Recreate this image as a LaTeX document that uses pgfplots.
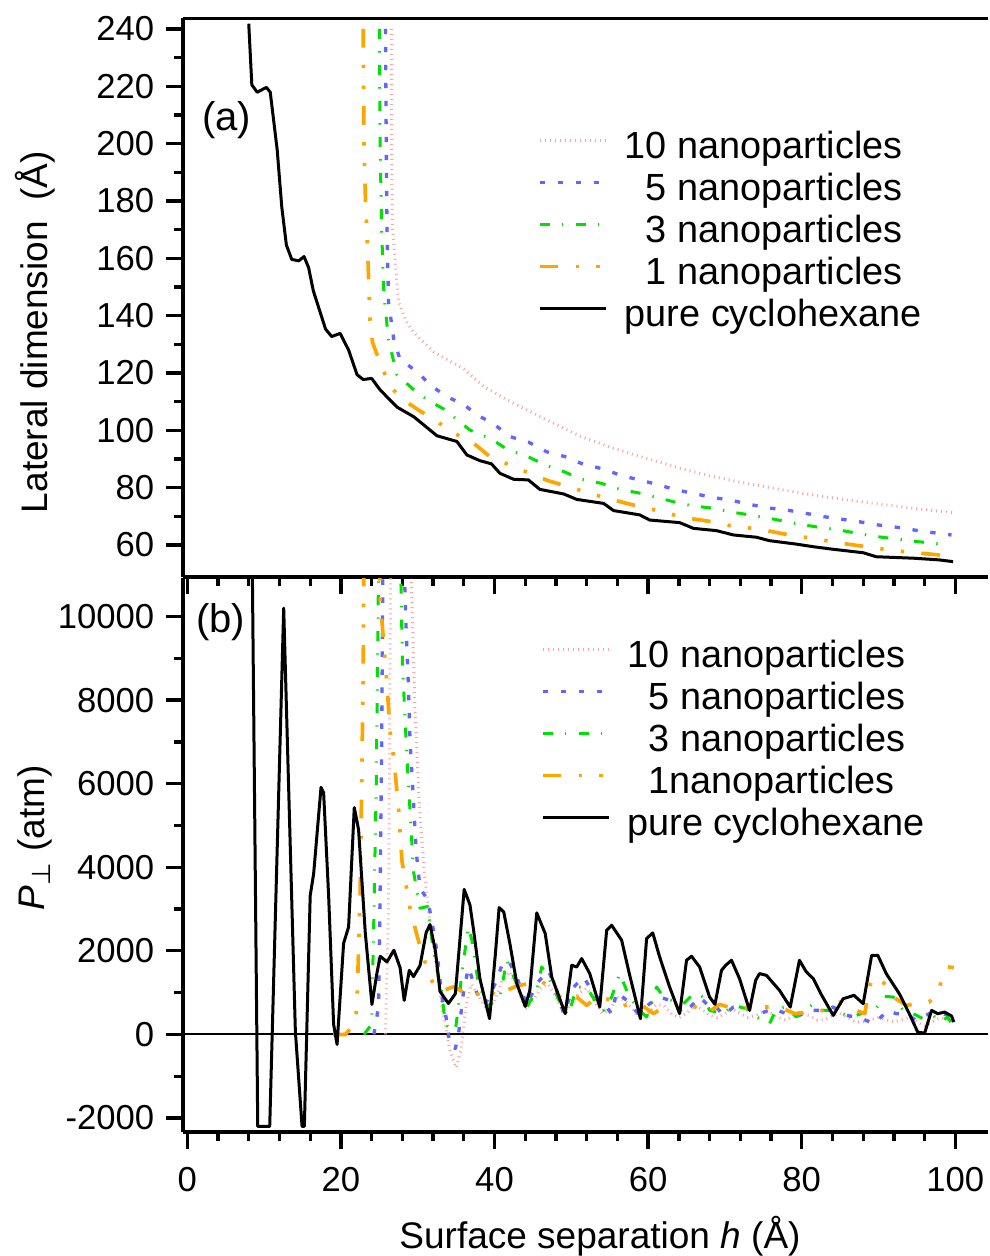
\documentclass[border=0pt]{standalone}
\usepackage{pgfplots}
\pgfplotsset{compat=1.18}
\usepackage{fontspec}
\setmainfont{Liberation Sans}
\newfontfamily\dejavu{DejaVu Sans}
\definecolor{c10}{RGB}{250,165,165}
\definecolor{c5}{RGB}{100,100,255}
\definecolor{c3}{RGB}{0,225,0}
\definecolor{c1}{RGB}{255,165,0}
\pgfplotsset{
  s10/.style={color=c10, line width=0.9pt, dash pattern=on 0.3pt off 1.2pt},
  s5/.style={color=c5, line width=1pt, dash pattern=on 1.6pt off 3.8pt},
  s3/.style={color=c3, line width=0.9pt, dash pattern=on 3pt off 3.7pt on 0.4pt off 3.7pt},
  s1/.style={color=c1, line width=1.1pt, dash pattern=on 5.6pt off 5.2pt on 1pt off 5.2pt on 1pt off 5.2pt},
  s0/.style={black, line width=0.9pt},
  common/.style={
    scale only axis, width=241.5pt,
    xmin=-0.56, xmax=104.25,
    axis lines*=left,
    axis line style={line width=1pt},
    tick align=outside,
    major tick length=5.1pt, minor tick length=2.7pt,
    tick style={line width=1pt, black},
    xtick={0,20,...,100}, minor x tick num=4,
    minor y tick num=1,
    scaled ticks=false,
    tick label style={font=\fontsize{10.4}{12}\selectfont},
    /pgf/number format/assume math mode=true,
    /pgf/number format/1000 sep={},
    label style={font=\fontsize{11.1}{13}\selectfont},
    line join=round,
    legend cell align=left,
  },
}
\pgfplotsset{legend image code/.code={\draw[#1] (0pt,3.3pt) -- (19.8pt,3.3pt);}}
\begin{document}
\begin{tikzpicture}
\useasboundingbox (0,0) rectangle (296.7pt,376.8pt);
% ---------------- panel (a)
\begin{axis}[common,
  at={(54.9pt,203.7pt)}, anchor=south west,
  height=167.7pt,
  ymin=48.84, ymax=243.8,
  ytick={60,80,...,240},
  xticklabels={},
  ylabel={Lateral dimension\ \ (Å)},
  ylabel style={at={(axis description cs:-0.184,0.438)}, anchor=center},
  legend style={at={(0.44,0.80)}, anchor=north west, draw=none, fill=none,
    font=\fontsize{11.35}{13}\selectfont, row sep=0pt, inner sep=0pt, column sep=5.2pt,
    nodes={inner sep=0pt, text height=8.4pt, text depth=4.2pt}},
]
\addplot[s10] coordinates {(26.6,240)(26.6,200)(26.7,171)(27.5,144.7)(28.5,138)(29.5,134)(32.1,127.3)(36.0,121.4)(38.6,115.2)(42.5,109.4)(46.8,103.6)(51.1,98.0)(55.5,93.7)(59.8,90.2)(64.1,86.8)(68.5,83.8)(72.8,81.5)(77.1,79.4)(81.5,77.4)(85.8,75.7)(90.1,74.3)(94.5,72.8)(99.7,71.3)};
\addlegendentry{10 nanoparticles}
\addplot[s5] coordinates {(25.8,240)(25.9,200)(26.0,170)(26.2,144.7)(26.9,131.4)(27.7,124.7)(30.1,120.1)(31.5,116)(33.8,111.7)(36.0,109)(37.7,105.4)(39.9,102.2)(42.0,97.8)(44.4,95.9)(46.8,92.5)(49.2,90.8)(51.6,88.1)(54.2,86.5)(56.6,84.1)(58.9,82.7)(61.3,81.0)(63.7,79.2)(65.9,78.0)(68.3,76.6)(70.6,75.7)(73.0,74.3)(75.4,73.0)(78.0,72.2)(80.4,71.1)(82.8,69.9)(85.2,69.0)(87.5,68.1)(89.9,67.0)(92.3,66.2)(94.7,65.2)(97.1,64.3)(99.5,63.5)};
\addlegendentry{\hspace{0.556em}5 nanoparticles}
\addplot[s3] coordinates {(25.0,240)(25.1,200)(25.3,170)(25.6,147.3)(26.2,131.4)(27.3,119.4)(29.5,114.1)(31.2,110.7)(33.4,107.4)(36.8,100.1)(39.6,96.9)(41.8,93.1)(44.2,91.0)(46.6,87.9)(49.0,85.6)(51.4,82.9)(53.9,81.5)(56.3,79.4)(58.7,78.2)(61.1,76.6)(63.7,74.8)(65.9,73.6)(68.5,72.8)(70.6,71.6)(73.2,70.5)(75.8,69.3)(80.2,67.0)(84.9,65.2)(89.3,63.1)(94.0,61.5)(99.2,60.0)};
\addlegendentry{\hspace{0.556em}3 nanoparticles}
\addplot[s1] coordinates {(22.9,240)(23.0,200)(23.2,180)(23.4,168.6)(23.8,138)(24.1,130.8)(25.1,123.5)(26.4,115.5)(27.7,111.4)(30.3,106.7)(32,104.1)(34.4,99.4)(37,96.1)(39.4,90.8)(41.6,88.3)(44.4,85.2)(47.0,82.4)(50.7,79.4)(54.6,76.3)(58.3,73.8)(60.9,72.2)(64.6,69.6)(68.3,68.1)(70.9,66.6)(74.5,65.5)(78.4,63.5)(82.1,62.0)(84.7,60.8)(88.4,59.4)(92.1,58.0)(94.9,57.3)(97.9,56.5)(99.7,55.4)};
\addlegendentry{\hspace{0.556em}1 nanoparticles}
\addplot[s0] coordinates {(8.0,241.8)(8.4,220.5)(9.1,217.9)(10.3,219.6)(10.8,217.9)(11.7,197.9)(12.3,177.9)(12.9,164.6)(13.6,159.6)(14.5,159.1)(15.2,160.6)(15.8,156.7)(16.4,148.7)(18.0,135.3)(18.8,132.7)(19.9,133.8)(21.0,128)(22.1,119.4)(22.9,117.7)(24.0,118.1)(25.1,114.1)(27.3,108.1)(29.5,104.7)(32.5,98.1)(35.1,96.1)(36.4,91.4)(38.1,89.4)(39.6,88.3)(40.7,85)(42.5,82.9)(44.4,82.7)(45.9,79.4)(49.0,77.8)(50.7,75.9)(54.2,74.5)(55.5,72.0)(58.9,70.5)(60.2,68.7)(64.1,67.8)(65.9,65.8)(68.9,65.0)(71.1,63.5)(74.1,62.7)(75.8,61.5)(79.3,60.3)(81.5,59.4)(84.1,58.5)(88.0,57.3)(89.7,55.9)(94.5,55.4)(97.9,54.8)(99.7,54.2)};
\addlegendentry{pure cyclohexane}
\draw[line width=1pt] (rel axis cs:0,1) -- (rel axis cs:1,1);
\node[font=\fontsize{12}{14}\selectfont] at (rel axis cs:0.054,0.8175) {(a)};
\end{axis}
% ---------------- panel (b)
\begin{axis}[common,
  at={(54.9pt,37.2pt)}, anchor=south west,
  height=166.2pt,
  ymin=-2335, ymax=10921,
  ytick={-2000,0,...,10000},
  xlabel={Surface separation \textit{h} (Å)},
  xlabel style={at={(axis description cs:0.518,-0.188)}, anchor=center},
  xticklabel style={yshift=-2pt},
  ylabel={{\itshape P}\textsubscript{\dejavu ⊥} (atm)},
  ylabel style={at={(axis description cs:-0.184,0.531)}, anchor=center},
  legend style={at={(0.4435,0.89)}, anchor=north west, draw=none, fill=none,
    font=\fontsize{11.35}{13}\selectfont, row sep=0pt, inner sep=0pt, column sep=5.2pt,
    nodes={inner sep=0pt, text height=8.4pt, text depth=4.2pt}},
]
\addplot[black, line width=0.6pt, forget plot] coordinates {(-0.56,0)(104.25,0)};
\addplot[s10] coordinates {(25.8,0)(26.2,3000)(26.5,12000)(29.0,12000)(29.6,8000)(30.2,5500)(30.8,4000)(31.5,2800)(32.3,1800)(33.2,600)(34.2,-400)(35.0,-800)(35.6,-400)(36.3,700)(37.0,1200)(38.0,900)(39.0,600)(40.0,800)(41.0,1300)(42.0,1500)(43.0,1100)(44.0,600)(45.0,800)(46.0,1100)(47.0,1200)(48.0,900)(49.0,500)(50,700)(51,1000)(52,1100)(53,800)(54,500)(55,600)(56,900)(57,800)(58,600)(59,400)(60,500)(61,700)(62,700)(63,500)(64,400)(65,500)(66,700)(67,600)(68,450)(69,400)(70,500)(71,600)(72,500)(73,400)(74,450)(75,550)(76,500)(77,400)(78,350)(79,450)(80,500)(81,450)(82,350)(83,350)(84,450)(85,500)(86,400)(87,300)(88,300)(89,350)(90,400)(91,350)(92,300)(93,350)(94,400)(95,300)(96,200)(97,300)(98,400)(99,350)(100,300)};
\addlegendentry{10 nanoparticles}
\addplot[s5] coordinates {(24.3,0)(24.9,670)(25.1,3320)(25.3,6850)(25.5,12000)(28.1,12000)(28.5,9650)(28.8,8290)(29.0,7020)(29.4,5740)(29.8,4380)(30.3,3500)(31.3,3220)(31.85,2700)(32.5,1980)(33.1,942)(33.8,304)(34.2,-280)(34.9,-335)(35.3,-16)(35.95,1000)(36.6,1600)(37.7,1000)(38.6,695)(39.0,800)(40.3,1300)(40.95,1654)(41.8,1774)(42.9,1375)(44.2,695)(45.5,1215)(47.0,1534)(48.1,1055)(49.0,496)(50.3,1134)(51.6,1375)(52.9,975)(54.2,735)(55.25,496)(55.9,1015)(57.2,815)(58.7,496)(60.2,735)(61.5,895)(62.8,815)(64.6,496)(65.9,735)(66.7,895)(67.8,700)(68.5,735)(69.8,455)(71.1,655)(72.4,655)(74.5,496)(76.3,615)(78.0,496)(79.7,455)(80.9,575)(82.3,575)(84.1,655)(85.8,455)(87.1,415)(88.4,335)(89.3,255)(90.1,375)(91.2,575)(92.3,496)(93.6,496)(94.9,335)(96.6,496)(97.7,496)(99.7,455)};
\addlegendentry{\hspace{0.556em}5 nanoparticles}
\addplot[s3] coordinates {(23.0,0)(24.0,240)(24.25,2440)(24.6,5970)(24.95,12000)(27.7,12000)(28.0,8930)(28.3,7735)(28.6,6615)(29.0,5340)(29.45,3900)(30.3,3020)(31.3,3060)(32.05,1980)(33.1,1023)(33.6,255)(34.2,120)(34.9,104)(35.3,655)(35.75,1500)(36.6,2570)(37.05,2253)(37.9,1215)(39.2,655)(39.9,815)(40.7,895)(41.6,1774)(42.5,1375)(44.2,655)(45.5,1055)(46.15,1614)(47.45,1215)(48.75,655)(49.6,455)(50.7,1134)(52.0,1134)(53.3,735)(54.2,575)(55.25,895)(56.3,1455)(57.2,1055)(58.5,655)(59.8,415)(61.1,1134)(62.0,895)(63.05,815)(64.6,735)(65.9,975)(67.2,895)(68.0,575)(69.8,496)(71.1,695)(72.8,615)(74.1,415)(75.8,255)(76.7,615)(78.0,655)(79.3,415)(80.6,615)(81.5,720)(82.8,575)(84.5,575)(85.8,455)(87.1,455)(88.4,535)(89.5,575)(90.8,910)(91.9,895)(93.2,575)(94.5,496)(95.8,375)(97.1,455)(98.0,295)(99.0,415)(99.8,175)};
\addlegendentry{\hspace{0.556em}3 nanoparticles}
\addplot[s1] coordinates {(19.0,0)(20.6,0)(21.9,290)(22.1,770)(22.5,3320)(22.9,8600)(23.0,12000)(25.0,12000)(25.1,10450)(26.0,8370)(26.4,7255)(26.9,6575)(27.5,5417)(27.95,4140)(29.0,3020)(30.0,2300)(31.6,1340)(32.9,1023)(34.7,1143)(37.3,863)(38.6,1134)(40.5,895)(41.6,1055)(43.1,1175)(44.6,1215)(45.9,1294)(47.2,1134)(49.0,815)(50.7,895)(52.0,695)(53.3,895)(55.5,815)(56.3,655)(57.6,735)(58.9,735)(60.7,496)(62.0,655)(65.0,775)(67.6,496)(69.3,720)(71.1,615)(74.5,655)(75.4,655)(77.1,655)(79.1,496)(80.6,535)(82.8,575)(84.1,735)(84.9,775)(87.1,575)(88.2,496)(88.8,1134)(89.3,1375)(90.6,1255)(91.9,895)(93.6,695)(94.9,735)(96.6,775)(97.7,975)(98.5,1494)(99.0,1614)(99.8,1600)};
\addlegendentry{\hspace{0.556em}1nanoparticles}
\addplot[s0] coordinates {(8.42,12000)(9.17,-2200)(10.73,-2200)(12.55,10200)(14.07,70)(14.94,-2200)(15.24,-2200)(16.0,3320)(16.45,3845)(17.41,5912)(17.75,5780)(18.4,3320)(19.05,240)(19.5,-240)(20.35,2180)(21.0,2570)(21.74,5427)(22.3,4900)(23.17,2438)(24.04,718)(24.69,1470)(25.12,1870)(26.0,1735)(26.9,2015)(27.7,1600)(28.24,815)(28.9,1534)(29.45,1383)(30.3,1647)(31.1,2438)(31.6,2630)(32.3,2000)(32.9,1030)(34.0,740)(34.9,975)(36.05,3470)(36.8,3100)(37.3,2460)(38.1,1330)(39.35,375)(40.1,1900)(40.6,3035)(41.2,2930)(42.0,2170)(42.9,1215)(44.0,670)(44.6,1055)(45.5,2908)(46.6,2413)(47.45,1375)(49.2,496)(50.05,1654)(50.7,1614)(51.35,1815)(52.4,1455)(53.7,655)(54.6,2493)(55.25,2613)(56.55,2253)(57.6,1414)(59.0,375)(59.8,2293)(60.6,2430)(61.5,1853)(62.8,1134)(64.1,496)(65.0,1774)(65.65,1870)(66.7,1614)(68.0,895)(68.7,720)(69.55,1534)(70.1,1654)(70.85,1774)(71.9,1335)(73.2,575)(74.0,1294)(74.5,1455)(75.4,1414)(77.1,1055)(78.5,655)(79.7,1774)(80.6,1494)(81.5,1335)(82.6,935)(84.1,455)(85.4,855)(86.8,935)(88.0,735)(89.1,1894)(89.9,1894)(91.0,1455)(92.7,975)(94.0,496)(95.1,55)(96.0,30)(96.9,575)(97.7,496)(98.6,535)(99.5,440)(99.8,295)};
\addlegendentry{pure cyclohexane}
\node[font=\fontsize{12}{14}\selectfont] at (rel axis cs:0.047,0.92) {(b)};
\end{axis}
\end{tikzpicture}
\end{document}
